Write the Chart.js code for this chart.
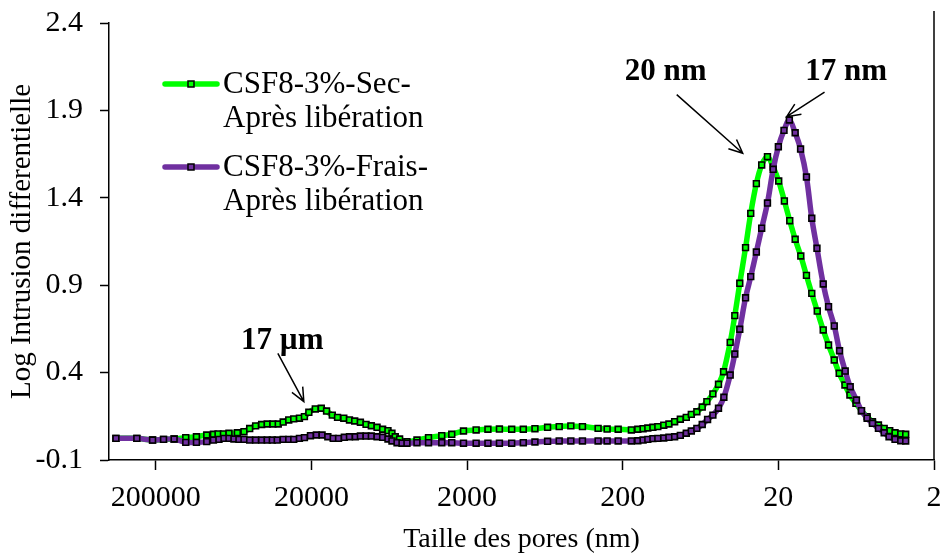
<!DOCTYPE html>
<html>
<head>
<meta charset="utf-8">
<script src="https://cdn.jsdelivr.net/npm/chart.js@4.4.1/dist/chart.umd.min.js"></script>
<style>
  html, body { margin: 0; background: #fff; }
  canvas { display: block; }
</style>
</head>
<body>
<canvas id="poreChart" width="944" height="556"></canvas>
<script>
// axis ticks
const xTicks = [2, 20, 200, 2000, 20000, 200000];
const yTicks = [-0.1, 0.4, 0.9, 1.4, 1.9, 2.4];

// CSF8-3%-Sec- Après libération (pore size nm / log intrusion)
const poreSec = [361000, 265000, 210000, 178500, 152600, 128500, 109700, 94200, 85300, 79700,
  73600, 67800, 59900, 54300, 49900, 45700, 41800, 38500, 35400, 32700,
  30400, 28000, 26000, 23900, 22200, 20800, 18900, 17300, 16000, 14700,
  13600, 12400, 11400, 10550, 9700, 8920, 8250, 7580, 6980, 6450,
  6080, 5790, 5430, 4870, 4200, 3540, 2910, 2510, 2110, 1750,
  1470, 1240, 1034, 871, 733, 608, 512, 431, 363, 288,
  252, 214, 176, 160, 148, 138, 128, 119, 109, 101,
  92.8, 85.3, 78.1, 72.5, 66.8, 61.7, 57.6, 52.7, 48.5, 45.0,
  40.8, 38.1, 35.4, 32.5, 30.1, 27.7, 25.6, 23.5, 21.6, 19.9,
  18.3, 16.9, 15.6, 14.35, 13.2, 12.2, 11.25, 10.3, 9.52, 8.75,
  8.13, 7.47, 6.94, 6.35, 5.85, 5.38, 4.97, 4.55, 4.18, 3.85,
  3.56, 3.27, 3.04];
const valSec = [0.024, 0.024, 0.014, 0.018, 0.020, 0.028, 0.033, 0.043, 0.047, 0.049,
  0.049, 0.053, 0.056, 0.062, 0.080, 0.095, 0.103, 0.106, 0.106, 0.106,
  0.117, 0.129, 0.135, 0.139, 0.148, 0.173, 0.192, 0.196, 0.180, 0.157,
  0.144, 0.139, 0.129, 0.123, 0.116, 0.104, 0.096, 0.087, 0.076, 0.068,
  0.053, 0.033, 0.020, 0.005, 0.014, 0.028, 0.039, 0.047, 0.066, 0.072,
  0.076, 0.077, 0.076, 0.076, 0.079, 0.087, 0.091, 0.095, 0.091, 0.081,
  0.077, 0.076, 0.072, 0.076, 0.079, 0.083, 0.087, 0.091, 0.099, 0.106,
  0.119, 0.133, 0.144, 0.161, 0.176, 0.203, 0.234, 0.278, 0.333, 0.405,
  0.573, 0.726, 0.911, 1.115, 1.311, 1.481, 1.588, 1.635, 1.576, 1.496,
  1.382, 1.269, 1.163, 1.067, 0.956, 0.853, 0.752, 0.644, 0.558, 0.472,
  0.396, 0.329, 0.272, 0.224, 0.182, 0.148, 0.119, 0.100, 0.081, 0.068,
  0.056, 0.049, 0.047];

// CSF8-3%-Frais- Après libération
const poreFrais = [361000, 265000, 210000, 178500, 152600, 128500, 109700, 94200, 85300, 78600,
  73000, 67800, 63000, 58500, 54300, 49900, 45700, 41800, 38500, 35700,
  33200, 30400, 28000, 26000, 23900, 22200, 20300, 18600, 17100, 15700,
  14500, 13400, 12300, 11400, 10450, 9700, 8920, 8250, 7580, 6980,
  6450, 6080, 5640, 5240, 4870, 4200, 3540, 2910, 2510, 2110,
  1750, 1470, 1240, 1034, 871, 733, 608, 512, 431, 363,
  288, 252, 214, 176, 160, 148, 138, 128, 119, 109,
  101, 92.8, 85.3, 78.1, 72.5, 66.8, 61.7, 57.0, 52.7, 48.5,
  44.8, 40.8, 38.1, 35.4, 32.5, 30.1, 27.7, 25.6, 23.5, 21.6,
  20.0, 18.4, 17.0, 15.6, 14.4, 13.2, 12.2, 11.3, 10.3, 9.52,
  8.75, 8.09, 7.44, 6.91, 6.30, 5.85, 5.38, 4.97, 4.55, 4.18,
  3.89, 3.56, 3.27, 3.04];
const valFrais = [0.024, 0.024, 0.014, 0.018, 0.020, 0.001, 0.001, 0.005, 0.014, 0.018,
  0.024, 0.024, 0.020, 0.018, 0.018, 0.014, 0.014, 0.014, 0.014, 0.014,
  0.014, 0.018, 0.018, 0.018, 0.024, 0.028, 0.039, 0.043, 0.043, 0.033,
  0.024, 0.024, 0.030, 0.033, 0.033, 0.037, 0.037, 0.037, 0.033, 0.030,
  0.020, 0.009, -0.001, -0.004, -0.004, -0.001, -0.001, -0.001, -0.001, -0.004,
  -0.004, -0.004, -0.004, -0.004, -0.001, 0.003, 0.007, 0.009, 0.009, 0.009,
  0.009, 0.009, 0.009, 0.009, 0.010, 0.014, 0.018, 0.022, 0.024, 0.026,
  0.030, 0.033, 0.041, 0.053, 0.066, 0.081, 0.103, 0.132, 0.157, 0.196,
  0.259, 0.386, 0.506, 0.648, 0.828, 0.949, 1.090, 1.226, 1.370, 1.563,
  1.692, 1.786, 1.845, 1.772, 1.679, 1.519, 1.283, 1.111, 0.907, 0.777,
  0.667, 0.525, 0.409, 0.319, 0.243, 0.182, 0.139, 0.110, 0.081, 0.056,
  0.033, 0.018, 0.010, 0.009];

const seriesLabels = [["CSF8-3%-Sec-", "Après libération"], ["CSF8-3%-Frais-", "Après libération"]];
const seriesColors = ["#00ff00", "#7030a0"];

// peak callouts, in data units (nm, value)
const notes = [
  { text: "20 nm", at: [106, 2.12], from: [90, 1.99], to: [33.9, 1.655] },
  { text: "17 nm", at: [7.33, 2.12], from: [10.1, 2.005], to: [17.7, 1.864] },
  { text: "17 µm", at: [30800, 0.58], from: [32900, 0.51], to: [22400, 0.234] }
];

const FONT = "'Liberation Serif', 'Times New Roman', serif";

const toPoints = (xs, ys) => xs.map((x, i) => ({ x, y: ys[i] }));

function arrow(ctx, x1, y1, x2, y2) {
  const a = Math.atan2(y2 - y1, x2 - x1), len = 15, spread = 0.42;
  ctx.beginPath();
  ctx.moveTo(x1, y1); ctx.lineTo(x2, y2);
  ctx.moveTo(x2 - len * Math.cos(a - spread), y2 - len * Math.sin(a - spread));
  ctx.lineTo(x2, y2);
  ctx.lineTo(x2 - len * Math.cos(a + spread), y2 - len * Math.sin(a + spread));
  ctx.stroke();
}

const extras = {
  id: "extras",
  afterDraw(chart) {
    const { ctx, chartArea: ca, scales: { x, y } } = chart;
    ctx.save();
    // right frame line
    ctx.strokeStyle = "#000"; ctx.lineWidth = 1.5;
    ctx.beginPath(); ctx.moveTo(ca.right, ca.top - 12); ctx.lineTo(ca.right, ca.bottom); ctx.stroke();

    // legend
    ctx.font = `31px ${FONT}`;
    ctx.textBaseline = "middle";
    ctx.fillStyle = "#000";
    seriesLabels.forEach((lines, i) => {
      const ly = ca.top + 61 + i * 83;
      ctx.strokeStyle = seriesColors[i]; ctx.lineWidth = 5.5; ctx.lineCap = "round";
      ctx.beginPath(); ctx.moveTo(ca.left + 56, ly); ctx.lineTo(ca.left + 108, ly); ctx.stroke();
      ctx.lineCap = "butt";
      ctx.fillStyle = seriesColors[i]; ctx.fillRect(ca.left + 79, ly - 3, 6, 6);
      ctx.strokeStyle = "#000"; ctx.lineWidth = 1.5; ctx.strokeRect(ca.left + 79, ly - 3, 6, 6);
      ctx.fillStyle = "#000";
      lines.forEach((t, j) => ctx.fillText(t, ca.left + 114, ly + 1 + j * 34));
    });

    // callouts
    ctx.font = `bold 31px ${FONT}`;
    ctx.textAlign = "center";
    ctx.strokeStyle = "#000"; ctx.lineWidth = 1.5;
    notes.forEach(n => {
      ctx.fillText(n.text, x.getPixelForValue(n.at[0]), y.getPixelForValue(n.at[1]));
      arrow(ctx, x.getPixelForValue(n.from[0]), y.getPixelForValue(n.from[1]),
        x.getPixelForValue(n.to[0]), y.getPixelForValue(n.to[1]));
    });
    ctx.restore();
  }
};

const makeSet = (label, xs, ys, color, order) => ({
  label, order,
  data: toPoints(xs, ys),
  borderColor: color,
  borderWidth: 5.5,
  tension: 0.35,
  pointStyle: "rect",
  pointRadius: 4.1,
  pointBackgroundColor: color,
  pointBorderColor: "#000",
  pointBorderWidth: 1.6
});

new Chart(document.getElementById("poreChart"), {
  type: "line",
  data: {
    datasets: [
      makeSet(seriesLabels[0].join(" "), poreSec, valSec, seriesColors[0], 1),
      makeSet(seriesLabels[1].join(" "), poreFrais, valFrais, seriesColors[1], 0)
    ]
  },
  options: {
    responsive: false,
    animation: false,
    devicePixelRatio: 1,
    layout: { padding: { top: 23, right: 10, left: 0, bottom: 0 } },
    plugins: { legend: { display: false }, tooltip: { enabled: false } },
    scales: {
      x: {
        type: "logarithmic",
        reverse: true,
        min: 2,
        max: 400000,
        afterBuildTicks: s => { s.ticks = xTicks.map(v => ({ value: v })); },
        afterFit: s => { s.height = 96; s.paddingLeft = 0; s.paddingRight = 0; },
        ticks: {
          autoSkip: false, maxRotation: 0, padding: 10, color: "#000",
          font: { family: FONT, size: 30 },
          callback: v => String(v)
        },
        grid: { drawOnChartArea: false, drawTicks: true, tickLength: 10, color: "#000", tickWidth: 1.5 },
        border: { color: "#000", width: 1.5 },
        title: {
          display: true, text: "Taille des pores (nm)", color: "#000",
          font: { family: FONT, size: 28 }, padding: { top: 0, bottom: 0 }
        }
      },
      y: {
        min: -0.1,
        max: 2.4,
        afterBuildTicks: s => { s.ticks = yTicks.map(v => ({ value: v })); },
        afterFit: s => { s.width = 109; s.paddingTop = 0; s.paddingBottom = 0; },
        ticks: {
          padding: 17, color: "#000",
          font: { family: FONT, size: 30 },
          callback: v => v.toFixed(1)
        },
        grid: { drawOnChartArea: false, drawTicks: true, tickLength: 9, color: "#000", tickWidth: 1.5 },
        border: { color: "#000", width: 1.5 },
        title: {
          display: true, text: "Log Intrusion differentielle", color: "#000",
          font: { family: FONT, size: 29 }, padding: { top: 5, bottom: 0 }
        }
      }
    }
  },
  plugins: [extras]
});
</script>
</body>
</html>
